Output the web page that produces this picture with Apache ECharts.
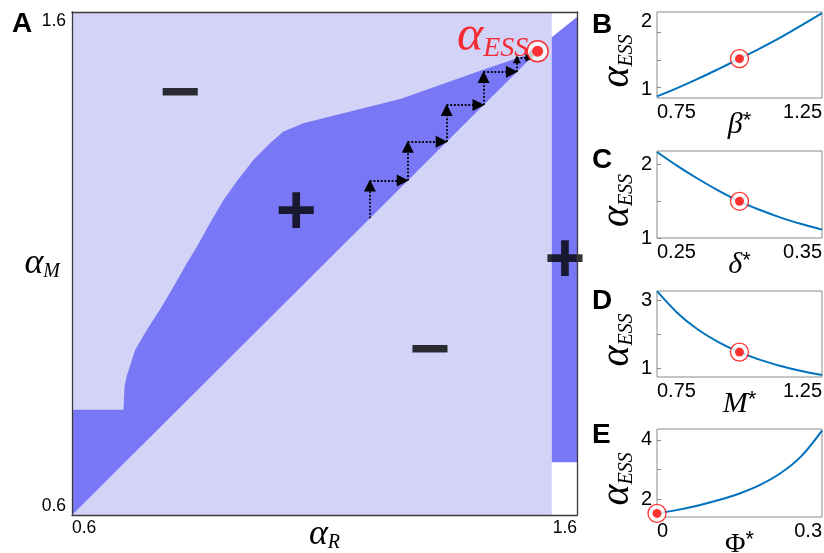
<!DOCTYPE html>
<html><head><meta charset="utf-8">
<script src="https://cdn.jsdelivr.net/npm/echarts@6/dist/echarts.min.js"></script>
<style>html,body{margin:0;padding:0;background:#fff}#c{width:824px;height:553px}</style>
</head><body><div id="c"></div>
<script>
// ---------- Panel A data ----------
const rangeA = [0.6, 1.6];
const tickLabelsA = [0.6, 1.6];
// upper boundary of the "+" region (alpha_R, alpha_M), left to right, ending at the ESS
const upperBoundary = [[0.6,0.809],[0.702,0.809],[0.704,0.855],[0.708,0.875],[0.725,0.928],[0.748,0.968],[0.774,1.008],[0.801,1.054],[0.827,1.100],[0.847,1.133],[0.873,1.180],[0.900,1.226],[0.926,1.263],[0.959,1.306],[0.992,1.339],[1.018,1.362],[1.058,1.379],[1.250,1.427],[1.414,1.485],[1.522,1.522]];
const alphaESS = 1.522;
const stripRange = [1.55, 1.6];
const stripDark = [[1.55,0.705],[1.6,0.705],[1.6,1.59],[1.55,1.55]];
const cobweb = [1.19, 1.265, 1.342, 1.415, 1.481, 1.509, 1.522];
const signText = ['−', '+', '−', '+'];
const signR = [0.814, 1.044, 1.309, 1.576];
const signM = [1.433, 1.198, 0.922, 1.101];

// ---------- Panels B-E data ----------
const betaX  = [0.75,0.8125,0.875,0.9375,1,1.0625,1.125,1.1875,1.25];
const betaY  = [0.895,1.02,1.155,1.30,1.448,1.60,1.76,1.935,2.117];
const deltaX = [0.25,0.2625,0.275,0.2875,0.3,0.3125,0.325,0.3375,0.35];
const deltaY = [2.167,1.975,1.80,1.64,1.498,1.38,1.277,1.19,1.114];
const mX     = [0.75,0.8125,0.875,0.9375,1,1.0625,1.125,1.1875,1.25];
const mY     = [3.27,2.62,2.13,1.76,1.47,1.24,1.06,0.91,0.79];
const phiX   = [0,0.0375,0.075,0.1125,0.15,0.1875,0.225,0.2625,0.3];
const phiY   = [1.52,1.64,1.79,1.97,2.19,2.48,2.88,3.45,4.31];
const essPoints = [[1,1.448],[0.3,1.498],[1,1.47],[0,1.52]];
const xRanges = [[0.75,1.25],[0.25,0.35],[0.75,1.25],[0,0.3]];
const yRanges = [[0.872,2.132],[1.0,2.18],[0.734,3.275],[1.40,4.363]];
const yLabelVals = [[1,2],[1,2],[1,3],[2,4]];
const yTickVals = [[1.03,1.42,1.83],[1,1.5,2],[1,2,3],[2,3,4]];
const xNames = ['{a|β}{s|*}','{a|δ}{s|*}','{a|M}{s|*}','{u|Φ}{s|*}'];
const panelLetters = ['A','B','C','D','E'];

// ---------- styling ----------
const SERIF = '"Liberation Serif","Times New Roman",serif';
const SANS = '"Liberation Sans",Arial,Helvetica,sans-serif';
const LIGHT = '#D3D3F8', DARK = '#7878F6', BLUE = '#0072BD', RED = '#FF0000', INK = '#000000';
const smallGrids = [
  {left:657, top:12, width:165, height:86},
  {left:657, top:151, width:165, height:87},
  {left:657, top:291, width:165, height:86},
  {left:657, top:429, width:165, height:88}
];
const letterPos = [[12,10],[592,11],[592,146],[592,287],[592,421]];

const chart = echarts.init(document.getElementById('c'));

function polyItem(points, color) {
  return function (params, api) {
    return {type:'polygon', shape:{points: points.map(p => api.coord(p))}, style:{fill: color}};
  };
}

const grids = [{left:72, top:12, width:505, height:503, show:true, backgroundColor:LIGHT, borderWidth:0, outerBoundsMode:'none'}]
  .concat(smallGrids.map(g => Object.assign({show:true, borderColor:'#8a8a8a', borderWidth:1, backgroundColor:'#fff', outerBoundsMode:'none'}, g)));

const subRichA = {a:{fontFamily:SERIF, fontStyle:'italic', fontSize:36, lineHeight:36, color:INK, verticalAlign:'top', padding:[0,0,6,0]},
                  s:{fontFamily:SERIF, fontStyle:'italic', fontSize:20, lineHeight:20, color:INK, verticalAlign:'bottom'}};

const xAxes = [
  {type:'value', gridIndex:0, min:rangeA[0], max:rangeA[1], z:10,
   axisLine:{show:true, lineStyle:{color:'#3a3a3a', width:1.3}}, axisTick:{show:false}, splitLine:{show:false},
   axisLabel:{customValues:tickLabelsA, alignMinLabel:'left', alignMaxLabel:'right', fontSize:17.5, fontFamily:SANS, color:INK, margin:4},
   name:'{a|α}{s|R}', nameLocation:'middle', nameGap:2, nameMoveOverlap:false,
   nameTextStyle:{color:INK, rich:subRichA}},
  {type:'value', gridIndex:0, position:'top', min:rangeA[0], max:rangeA[1], z:10,
   axisLine:{show:true, lineStyle:{color:'#3a3a3a', width:1.3}}, axisTick:{show:false}, axisLabel:{show:false}, splitLine:{show:false}}
];
const yAxes = [
  {type:'value', gridIndex:0, min:rangeA[0], max:rangeA[1], z:10,
   axisLine:{show:true, lineStyle:{color:'#3a3a3a', width:1.3}}, axisTick:{show:false}, splitLine:{show:false},
   axisLabel:{customValues:tickLabelsA, verticalAlignMinLabel:'bottom', verticalAlignMaxLabel:'top', fontSize:17.5, fontFamily:SANS, color:INK, margin:6},
   name:'{a|α}{s|M}', nameLocation:'middle', nameRotate:0, nameGap:12, nameMoveOverlap:false,
   nameTextStyle:{color:INK, rich:subRichA}},
  {type:'value', gridIndex:0, position:'right', min:rangeA[0], max:rangeA[1], z:10,
   axisLine:{show:true, lineStyle:{color:'#3a3a3a', width:1.3}}, axisTick:{show:false}, axisLabel:{show:false}, splitLine:{show:false}}
];
for (let i = 0; i < 4; i++) {
  xAxes.push({type:'value', gridIndex:i+1, min:xRanges[i][0], max:xRanges[i][1],
    axisLine:{show:false}, axisTick:{show:false}, splitLine:{show:false},
    axisLabel:{customValues:xRanges[i], alignMinLabel:'left', alignMaxLabel:'right', fontSize:20, fontFamily:SANS, color:INK, margin:4},
    name:xNames[i], nameLocation:'middle', nameGap:12, nameMoveOverlap:false,
    nameTextStyle:{color:INK, rich:{a:{fontFamily:SERIF, fontStyle:'italic', fontSize:30, lineHeight:30, color:INK, verticalAlign:'bottom'},
                         u:{fontFamily:SERIF, fontSize:28, lineHeight:30, color:INK, verticalAlign:'bottom'},
                         s:{fontFamily:SANS, fontSize:22, lineHeight:22, color:INK, verticalAlign:'top'}}}});
  yAxes.push({type:'value', gridIndex:i+1, min:yRanges[i][0], max:yRanges[i][1],
    axisLine:{show:false}, splitLine:{show:false},
    axisTick:{show:true, inside:true, length:4, customValues:yTickVals[i], lineStyle:{color:'#8a8a8a'}},
    axisLabel:{customValues:yLabelVals[i], fontSize:20, fontFamily:SANS, color:INK, margin:5},
    name:'{a|α}{s|ESS}', nameLocation:'middle', nameRotate:90, nameGap:20, nameMoveOverlap:false,
    nameTextStyle:{color:INK, rich:{a:{fontFamily:SERIF, fontStyle:'italic', fontSize:40, lineHeight:40, color:INK, verticalAlign:'top', padding:[0,0,6,0]},
                         s:{fontFamily:SERIF, fontStyle:'italic', fontSize:20, lineHeight:20, color:INK, verticalAlign:'bottom', padding:[0,12,0,0]}}}});
}

// cobweb arrows (best-response iteration)
const arrowData = [];
for (let k = 0; k < cobweb.length - 1; k++) {
  const a = cobweb[k], b = cobweb[k+1];
  const big = k < 4;
  const sh = big ? 0.010 : 0.003;
  arrowData.push({coords:[[a,a],[a,b - sh]], symbolSize: big ? 12 : 8});
  if (k < cobweb.length - 2) arrowData.push({coords:[[a,b],[b - sh,b]], symbolSize: big ? 12 : 8});
}

const series = [
  {type:'custom', xAxisIndex:0, yAxisIndex:0, data:[[0,0]], z:1, silent:true,
   renderItem: polyItem([[stripRange[0],rangeA[0]],[stripRange[1],rangeA[0]],[stripRange[1],rangeA[1]],[stripRange[0],rangeA[1]]], '#FFFFFF')},
  {type:'custom', xAxisIndex:0, yAxisIndex:0, data:[[0,0]], z:2, silent:true, renderItem: polyItem(stripDark, DARK)},
  {type:'custom', xAxisIndex:0, yAxisIndex:0, data:[[0,0]], z:2, silent:true,
   renderItem: polyItem([[rangeA[0],rangeA[0]],[alphaESS,alphaESS]].concat(upperBoundary.slice().reverse()), DARK)},
  {type:'scatter', xAxisIndex:0, yAxisIndex:0, symbolSize:0, z:5, silent:true,
   data: signText.map((t,i) => ({value:[signR[i], signM[i]], name:t})),
   label:{show:true, position:'inside', formatter:'{b}', fontSize:70, fontWeight:'bold', fontFamily:SANS, color:INK}},
  {type:'lines', coordinateSystem:'cartesian2d', xAxisIndex:0, yAxisIndex:0, z:6, silent:true,
   symbol:['none','triangle'], symbolSize:12,
   lineStyle:{color:INK, width:1.8, type:'dotted', opacity:1},
   data: arrowData},
  {type:'scatter', xAxisIndex:0, yAxisIndex:0, z:7, silent:true, symbol:'circle', symbolSize:21,
   itemStyle:{color:'#fff', borderColor:RED, borderWidth:1.5},
   data:[[alphaESS, alphaESS]],
   label:{show:true, position:'left', distance:0, offset:[2,-14], formatter:'{a|α}{s|ESS}',
          rich:{a:{fontFamily:SERIF, fontStyle:'italic', fontSize:50, lineHeight:50, color:RED, verticalAlign:'top', padding:[0,0,8,0]},
                s:{fontFamily:SERIF, fontStyle:'italic', fontSize:28, lineHeight:28, color:RED, verticalAlign:'bottom'}}}},
  {type:'scatter', xAxisIndex:0, yAxisIndex:0, z:8, silent:true, symbol:'circle', symbolSize:11,
   itemStyle:{color:RED}, data:[[alphaESS, alphaESS]]}
];
const curves = [[betaX,betaY],[deltaX,deltaY],[mX,mY],[phiX,phiY]];
for (let i = 0; i < 4; i++) {
  series.push({type:'line', xAxisIndex:i+2, yAxisIndex:i+2, showSymbol:false, smooth:0.3, silent:true,
    lineStyle:{color:BLUE, width:2}, data: curves[i][0].map((x,j) => [x, curves[i][1][j]])});
  series.push({type:'scatter', xAxisIndex:i+2, yAxisIndex:i+2, symbol:'circle', symbolSize:18, clip:false, silent:true, z:5,
    itemStyle:{color:'#fff', borderColor:RED, borderWidth:1.3}, data:[essPoints[i]]});
  series.push({type:'scatter', xAxisIndex:i+2, yAxisIndex:i+2, symbol:'circle', symbolSize:9, clip:false, silent:true, z:6,
    itemStyle:{color:RED}, data:[essPoints[i]]});
}

chart.setOption({
  animation:false,
  backgroundColor:'#fff',
  title: panelLetters.map((t,i) => ({text:t, left:letterPos[i][0], top:letterPos[i][1], padding:0,
    textStyle:{fontSize:28, fontWeight:'bold', fontFamily:SANS, color:INK}})),
  grid: grids,
  xAxis: xAxes,
  yAxis: yAxes,
  series: series
});
</script></body></html>
